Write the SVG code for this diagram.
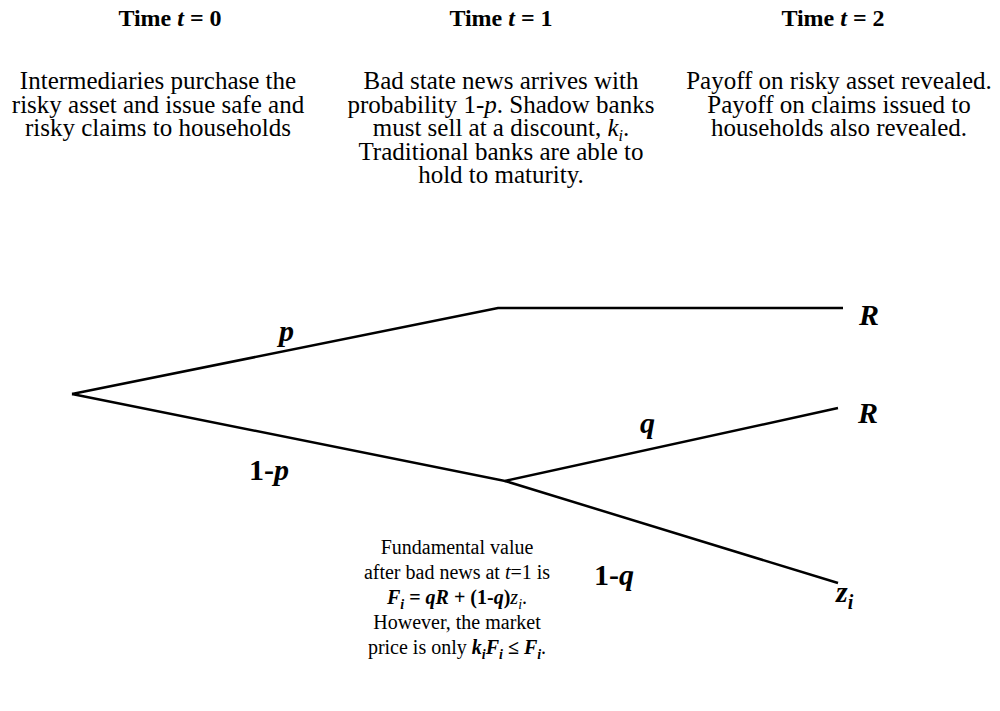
<svg xmlns="http://www.w3.org/2000/svg" width="1000" height="711" viewBox="0 0 1000 711">
<style>
text{font-family:"Liberation Serif","Times New Roman",serif;fill:#000}
.t{font-size:24px;font-weight:bold;text-anchor:middle}
.p{font-size:25px;text-anchor:middle}
.m{font-size:20px;text-anchor:middle}
.l{font-size:30px;font-weight:bold}
.bi{font-weight:bold;font-style:italic}
.b{font-weight:bold}
.i{font-style:italic}
.s{font-size:16px}
.s2{font-size:14px}
.s3{font-size:20px}
.edge{stroke:#000;stroke-width:2.5;fill:none}
</style>
<rect width="1000" height="711" fill="#fff"/>
<g id="col0">
<text class="t" x="170" y="26">Time <tspan class="i">t</tspan> = 0</text>
<text class="p" x="158" y="89">Intermediaries purchase the</text>
<text class="p" x="158" y="112.5">risky asset and issue safe and</text>
<text class="p" x="158" y="136">risky claims to households</text>
</g>
<g id="col1">
<text class="t" x="501" y="26">Time <tspan class="i">t</tspan> = 1</text>
<text class="p" x="501" y="89">Bad state news arrives with</text>
<text class="p" x="501" y="112.5">probability 1-<tspan class="i">p</tspan>. Shadow banks</text>
<text class="p" x="501" y="136">must sell at a discount, <tspan class="i">k</tspan><tspan class="i s" dy="5">i</tspan><tspan dy="-5">.</tspan></text>
<text class="p" x="501" y="159.5">Traditional banks are able to</text>
<text class="p" x="501" y="183">hold to maturity.</text>
</g>
<g id="col2">
<text class="t" x="833" y="26">Time <tspan class="i">t</tspan> = 2</text>
<text class="p" x="839" y="89">Payoff on risky asset revealed.</text>
<text class="p" x="839" y="112.5">Payoff on claims issued to</text>
<text class="p" x="839" y="136">households also revealed.</text>
</g>
<g id="connectors">
<polyline class="edge" points="72,394 498,308 843,308"/>
<polyline class="edge" points="72,394 505,481 838,408"/>
<line class="edge" x1="505" y1="481" x2="838" y2="583"/>
</g>
<g id="labels">
<text class="l bi" x="279" y="341">p</text>
<text class="l" x="249" y="480">1-<tspan class="i">p</tspan></text>
<text class="l bi" x="640" y="433">q</text>
<text class="l" x="594" y="585">1-<tspan class="i">q</tspan></text>
<text class="l bi" x="859" y="325">R</text>
<text class="l bi" x="858" y="423">R</text>
<text class="l bi" x="836" y="602">z<tspan class="s3" dy="7">i</tspan></text>
</g>
<g id="note">
<text class="m" x="457" y="554">Fundamental value</text>
<text class="m" x="457" y="579">after bad news at <tspan class="i">t</tspan>=1 is</text>
<text class="m" x="457" y="604"><tspan class="bi">F</tspan><tspan class="bi s2" dy="5">i</tspan><tspan class="b" dy="-5"> = </tspan><tspan class="bi">qR</tspan><tspan class="b"> + (1-</tspan><tspan class="bi">q</tspan><tspan class="b">)</tspan><tspan class="i">z</tspan><tspan class="i s2" dy="5">i</tspan><tspan dy="-5">.</tspan></text>
<text class="m" x="457" y="629">However, the market</text>
<text class="m" x="457" y="654">price is only <tspan class="bi">k</tspan><tspan class="bi s2" dy="5">i</tspan><tspan class="bi" dy="-5">F</tspan><tspan class="bi s2" dy="5">i</tspan><tspan class="b" dy="-5"> ≤ </tspan><tspan class="bi">F</tspan><tspan class="bi s2" dy="5">i</tspan><tspan dy="-5">.</tspan></text>
</g>
</svg>
